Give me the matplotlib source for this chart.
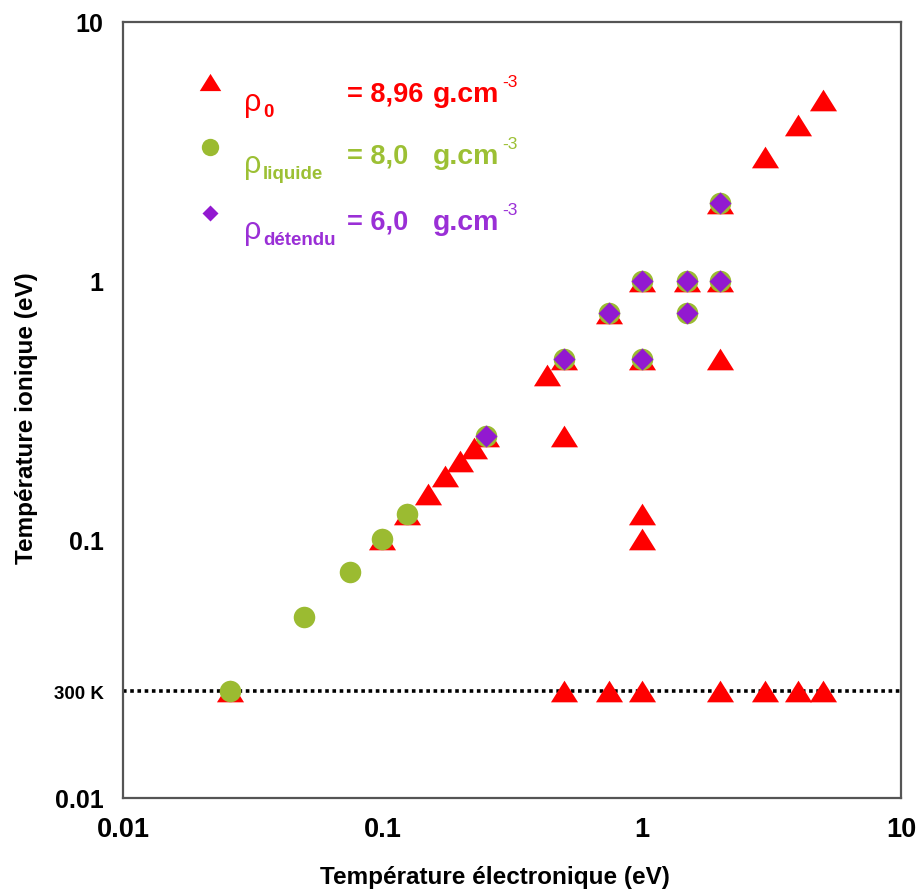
import matplotlib
matplotlib.use("Agg")
import matplotlib.pyplot as plt

plt.rcParams['font.family'] = ['Liberation Sans', 'DejaVu Sans']

T300 = 0.02585  # 300 K in eV

# rho_0 = 8,96 g.cm-3
rho0_te = [T300, 0.1, 0.125, 0.15, 0.175, 0.2, 0.225, 0.25, 0.43,
           0.5, 0.5, 0.5, 0.75, 0.75, 1, 1, 1, 1, 1, 1.5,
           2, 2, 2, 2, 3, 3, 4, 4, 5, 5]
rho0_ti = [T300, 0.1, 0.125, 0.15, 0.175, 0.2, 0.225, 0.25, 0.43,
           0.5, 0.25, T300, 0.75, T300, 1, 0.5, 0.125, 0.1, T300, 1,
           2, 1, 0.5, T300, 3, T300, 4, T300, 5, T300]
# rho_liquide = 8,0 g.cm-3
liq_te = [T300, 0.05, 0.075, 0.1, 0.125, 0.25, 0.5, 0.75, 1, 1, 1.5, 1.5, 2, 2]
liq_ti = [T300, 0.05, 0.075, 0.1, 0.125, 0.25, 0.5, 0.75, 1, 0.5, 1, 0.75, 2, 1]
# rho_detendu = 6,0 g.cm-3
det_te = [0.25, 0.5, 0.75, 1, 1, 1.5, 1.5, 2, 2]
det_ti = [0.25, 0.5, 0.75, 1, 0.5, 1, 0.75, 2, 1]

yticks = [0.01, T300, 0.1, 1, 10]
ytick_labels = ['0.01', '300 K', '0.1', '1', '10']
xticks = [0.01, 0.1, 1, 10]
xtick_labels = ['0.01', '0.1', '1', '10']

RED = '#ff0000'
GREEN = '#9bbb31'
PURPLE = '#9219d0'
GREEN_TXT = '#9cc034'
PURPLE_TXT = '#9a2fd6'

W, H = 921, 895
fig = plt.figure(figsize=(W / 100, H / 100), dpi=100)
ax = fig.add_axes([123 / W, 1 - 799 / H, 778 / W, 776 / H])

# wide flat triangle
tri = [(-1, -0.8), (1, -0.8), (0, 0.8)]

ax.axhline(T300, color='black', linestyle=(0, (1, 1)), lw=2.6, zorder=1)
ax.plot(rho0_te, rho0_ti, linestyle='none', marker=tri, ms=19.5,
        color=RED, mec='none', zorder=2)
ax.plot(liq_te, liq_ti, linestyle='none', marker='o', ms=15.5,
        color=GREEN, mec='none', zorder=3)
ax.plot(det_te, det_ti, linestyle='none', marker='D', ms=11,
        color=PURPLE, mec='none', zorder=4)

ax.set_xscale('log')
ax.set_yscale('log')
ax.set_xlim(0.01, 10)
ax.set_ylim(0.01, 10)
ax.minorticks_off()
ax.set_xticks(xticks)
ax.set_xticklabels(xtick_labels, fontsize=19.5, fontweight='bold')
ax.set_yticks(yticks)
ax.set_yticklabels(ytick_labels, fontsize=18, fontweight='bold')
ax.get_yticklabels()[1].set_fontsize(13.5)
ax.tick_params(axis='both', length=0)
ax.tick_params(axis='x', pad=13)
ax.tick_params(axis='y', pad=14)
for s in ax.spines.values():
    s.set_color('#555555')
    s.set_linewidth(1.6)

fig.text(495 / W, 1 - 878 / H, 'Température électronique (eV)', ha='center',
         va='center', fontsize=17.5, fontweight='bold')
fig.text(27 / W, 1 - 418 / H, 'Température ionique (eV)', ha='center',
         va='center', rotation=90, fontsize=17.5, fontweight='bold')


def px(x, y):
    return x / W, 1 - y / H


# hand made legend
leg_marks = [(tri, 15.5, RED, 83), ('o', 12.5, GREEN, 148), ('D', 8.5, PURPLE, 214)]
for m, ms, c, yy in leg_marks:
    fx, fy = px(210, yy)
    ax.plot([fx], [fy], transform=fig.transFigure, marker=m, ms=ms, color=c,
            mec='none', clip_on=False, linestyle='none')

leg_rows = [('0', '= 8,96', RED, 102),
            ('liquide', '= 8,0', GREEN_TXT, 164),
            ('détendu', '= 6,0', PURPLE_TXT, 230)]
for sub, val, c, base in leg_rows:
    fig.text(*px(244, base + 9), 'ρ', color=c, fontsize=22, va='baseline')
    fig.text(*px(263, base + 15), sub, color=c, fontsize=13.5,
             fontweight='bold', va='baseline')
    fig.text(*px(347, base), val, color=c, fontsize=19.5, fontweight='bold',
             va='baseline')
    fig.text(*px(433, base), 'g.cm', color=c, fontsize=20.5, fontweight='bold',
             va='baseline')
    fig.text(*px(502, base - 15), '-3', color=c, fontsize=12.5, va='baseline')

ax.set_xlim(0.01, 10)
ax.set_ylim(0.01, 10)
fig.savefig('out.png', dpi=100)
